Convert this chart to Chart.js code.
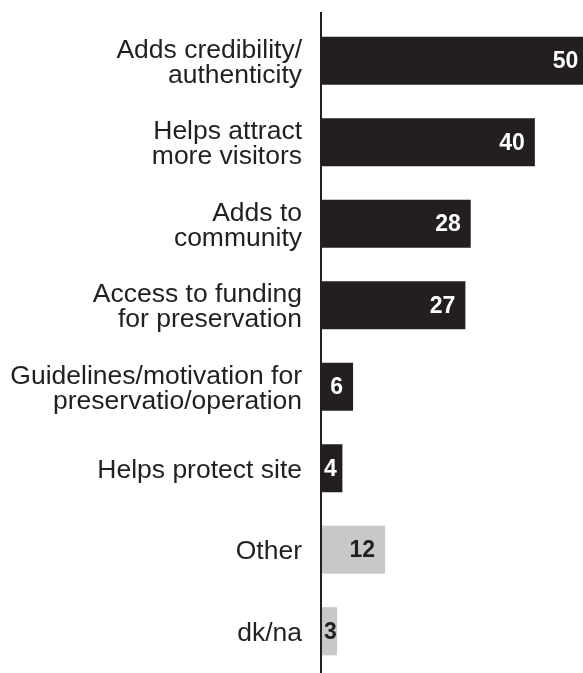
<!DOCTYPE html>
<html>
<head>
<meta charset="utf-8">
<title>Benefits of designation</title>
<script src="https://cdn.jsdelivr.net/npm/chart.js@4/dist/chart.umd.min.js"></script>
<style>
  html, body { margin: 0; padding: 0; background: #ffffff; overflow: hidden; }
  #wrap { width: 583px; height: 673px; }
</style>
</head>
<body>
<div id="wrap"><canvas id="chart" width="583" height="673"></canvas></div>
<script>
// Response categories (each entry is a list of label lines)
const categories = [
  ["Adds credibility/", "authenticity"],
  ["Helps attract", "more visitors"],
  ["Adds to", "community"],
  ["Access to funding", "for preservation"],
  ["Guidelines/motivation for", "preservatio/operation"],
  ["Helps protect site"],
  ["Other"],
  ["dk/na"]
];

// Share of respondents (%)
const values = [50, 40, 28, 27, 6, 4, 12, 3];

// Number of leading categories that are substantive benefits (dark bars)
const substantiveCount = 6;

const DARK = "#231f20";
const LIGHT = "#c7c8ca";
const FONT = "'Liberation Sans', Arial, Helvetica, sans-serif";
const LABEL_SIZE = 26.5;
const LABEL_LEADING = 25;
const LABEL_GAP = 19;

// Category labels, right-aligned against the axis and centred on each bar
const categoryLabels = {
  id: "categoryLabels",
  afterDraw(chart) {
    const { ctx } = chart;
    const y = chart.scales.y;
    const xRight = chart.scales.x.getPixelForValue(0) - LABEL_GAP;
    const capHalf = LABEL_SIZE * 0.716 / 2;
    ctx.save();
    ctx.font = LABEL_SIZE + "px " + FONT;
    ctx.fillStyle = DARK;
    ctx.textAlign = "right";
    ctx.textBaseline = "alphabetic";
    chart.data.labels.forEach((lines, i) => {
      const c = y.getPixelForValue(i);
      const n = lines.length;
      lines.forEach((line, k) => {
        ctx.fillText(line, xRight, c + capHalf + (k - (n - 1) / 2) * LABEL_LEADING);
      });
    });
    ctx.restore();
  }
};

// Vertical axis line running slightly above the plot area to the bottom edge
const axisLine = {
  id: "axisLine",
  afterDatasetsDraw(chart) {
    const { ctx, chartArea } = chart;
    const x = chart.scales.x.getPixelForValue(0);
    ctx.save();
    ctx.strokeStyle = DARK;
    ctx.lineWidth = 2;
    ctx.beginPath();
    ctx.moveTo(x, chartArea.top - 8);
    ctx.lineTo(x, chart.height);
    ctx.stroke();
    ctx.restore();
  }
};

// Value labels placed inside the bar end, kept inside the bar start for short bars
const valueLabels = {
  id: "valueLabels",
  afterDatasetsDraw(chart) {
    const { ctx } = chart;
    const meta = chart.getDatasetMeta(0);
    ctx.save();
    ctx.font = "bold 23px " + FONT;
    ctx.textAlign = "right";
    ctx.textBaseline = "middle";
    meta.data.forEach((bar, i) => {
      const text = String(values[i]);
      const w = ctx.measureText(text).width;
      const right = Math.max(bar.x - 10, bar.base + 3 + w);
      ctx.fillStyle = i < substantiveCount ? "#ffffff" : DARK;
      ctx.fillText(text, right, bar.y + 1);
    });
    ctx.restore();
  }
};

new Chart(document.getElementById("chart"), {
  type: "bar",
  data: {
    labels: categories,
    datasets: [{
      data: values,
      backgroundColor: ctx => ctx.dataIndex < substantiveCount ? DARK : LIGHT,
      borderWidth: 0,
      barPercentage: 0.59,
      categoryPercentage: 1
    }]
  },
  options: {
    indexAxis: "y",
    responsive: false,
    animation: false,
    devicePixelRatio: 1,
    layout: { padding: { top: 20, bottom: 1, left: 0, right: 0 } },
    plugins: {
      legend: { display: false },
      tooltip: { enabled: false }
    },
    scales: {
      x: {
        display: false,
        min: 0,
        max: 49
      },
      y: {
        afterFit(scale) {
          scale.width = 321;
          scale.paddingTop = 0;
          scale.paddingBottom = 0;
        },
        grid: { display: false, drawTicks: false },
        border: { display: false },
        ticks: { display: false }
      }
    }
  },
  plugins: [axisLine, valueLabels, categoryLabels]
});
</script>
</body>
</html>
